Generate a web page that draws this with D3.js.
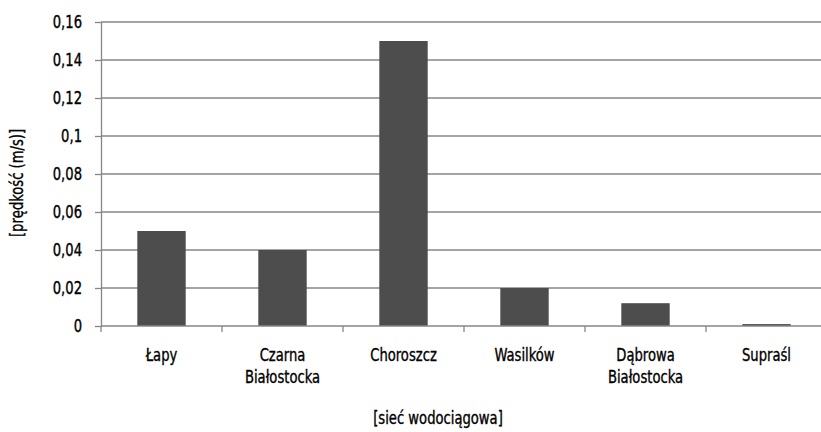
<!DOCTYPE html>
<meta charset="utf-8">
<style>
body { margin: 0; background: #fff; }
svg { display: block; }
text { font-family: "Liberation Sans Narrow", "DejaVu Sans Condensed", sans-serif; font-size: 17px; fill: #000; stroke: #000; stroke-width: 0.35px; }
.grid line { stroke: #868686; stroke-width: 1.3px; }
.axis path, .axis line { stroke: #868686; stroke-width: 1.3px; fill: none; }
</style>
<body>
<div id="chart"></div>
<script src="https://d3js.org/d3.v7.min.js"></script>
<script>
var categories = [["Łapy"], ["Czarna", "Białostocka"], ["Choroszcz"], ["Wasilków"], ["Dąbrowa", "Białostocka"], ["Supraśl"]];
var values = [0.05, 0.04, 0.15, 0.02, 0.012, 0.001];
var yTicks = [0, 0.02, 0.04, 0.06, 0.08, 0.1, 0.12, 0.14, 0.16];

var W = 821, H = 432, SX = 0.86;
var svg = d3.select("#chart").append("svg").attr("width", W).attr("height", H);

var x = d3.scaleBand().domain(d3.range(categories.length)).range([101, 827]).paddingInner(0.6).paddingOuter(0.3);
var xTick = d3.scaleBand().domain(d3.range(categories.length)).range([101, 827]);
var y = d3.scaleLinear().domain([0, 0.16]).range([326, 22]);
var fmt = function(d) { return String(d).replace(".", ","); };

// narrow text helper: squeeze horizontally around the anchor point
function label(parent, px, py, lines, rot) {
    var g = parent.append("g").attr("transform", "translate(" + px + "," + py + ")" + (rot ? " rotate(" + rot + ")" : "") + " scale(" + SX + ",1)");
    var t = g.append("text").attr("text-anchor", "middle");
    t.selectAll("tspan").data(lines).enter().append("tspan")
        .attr("x", 0).attr("dy", function(d, i) { return i ? 22 : 0; })
        .text(function(d) { return d; });
}

// gridlines
svg.append("g").attr("class", "grid")
    .selectAll("line").data(yTicks.slice(1)).enter().append("line")
    .attr("x1", 101).attr("x2", W).attr("y1", function(d) { return y(d); }).attr("y2", function(d) { return y(d); });

// y axis
svg.append("g").attr("class", "axis")
    .attr("transform", "translate(101,0)")
    .call(d3.axisLeft(y).tickValues(yTicks).tickFormat(fmt).tickSize(6).tickSizeOuter(0).tickPadding(0))
    .call(function(g) {
        g.selectAll("text").attr("font-family", null).attr("font-size", null).attr("fill", null)
            .attr("x", -19 / SX).attr("dy", "0.35em").attr("transform", "scale(" + SX + ",1)");
    });

// bars
svg.append("g").selectAll("rect").data(values).enter().append("rect")
    .attr("x", function(d, i) { return x(i); })
    .attr("width", x.bandwidth())
    .attr("y", function(d) { return y(d); })
    .attr("height", function(d) { return y(0) - y(d); })
    .attr("fill", "#4d4d4d");

// x axis line and ticks
var xa = svg.append("g").attr("class", "axis");
xa.append("line").attr("x1", 101).attr("x2", W).attr("y1", y(0)).attr("y2", y(0));
xa.selectAll(".t").data(d3.range(categories.length)).enter().append("line")
    .attr("class", "t")
    .attr("x1", function(i) { return xTick(i); }).attr("x2", function(i) { return xTick(i); })
    .attr("y1", y(0)).attr("y2", y(0) + 6);

// category labels
var lg = svg.append("g");
categories.forEach(function(c, i) { label(lg, xTick(i) + xTick.bandwidth() / 2, 361, c); });

// axis titles
label(svg, 438, 424, ["[sieć wodociągowa]"]);
label(svg, 23, 183, ["[prędkość (m/s)]"], -90);
</script>
</body>
